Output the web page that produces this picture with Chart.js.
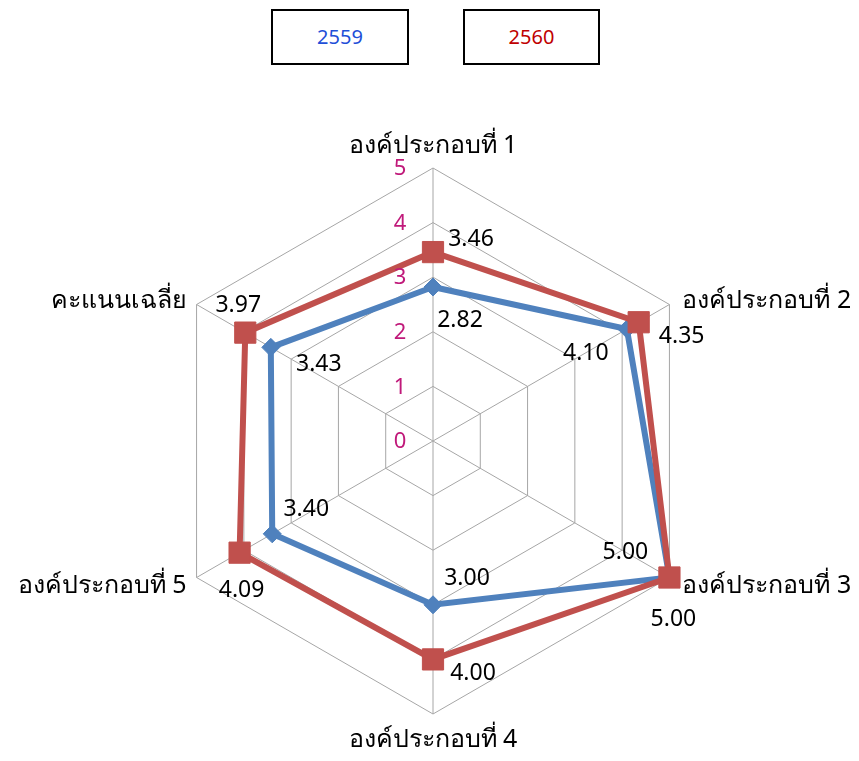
<!DOCTYPE html>
<html lang="th">
<head>
<meta charset="UTF-8">
<title>Radar</title>
<script src="https://cdn.jsdelivr.net/npm/chart.js"></script>
<style>
    html, body { margin: 0; padding: 0; background: #fff; }
    #wrap { position: relative; width: 859px; height: 761px; }
    .lg {
        position: absolute;
        top: 9px;
        height: 52px;
        border: 2px solid #000;
        font: 20px "Noto Sans", sans-serif;
        line-height: 52px;
        text-align: center;
        background: #fff;
    }
</style>
</head>
<body>
<div id="wrap">
    <canvas id="radar"></canvas>
</div>
<script>
// data
const categories = ['องค์ประกอบที่ 1', 'องค์ประกอบที่ 2', 'องค์ประกอบที่ 3', 'องค์ประกอบที่ 4', 'องค์ประกอบที่ 5', 'คะแนนเฉลี่ย'];
const seriesNames = ['2559', '2560'];
const values2559 = [2.82, 4.10, 5.00, 3.00, 3.40, 3.43];
const values2560 = [3.46, 4.35, 5.00, 4.00, 4.09, 3.97];
const tickValues = [0, 1, 2, 3, 4, 5];

// label offsets (px) from each point
const labelOffsets = [
    [[27, 33], [-41, 24], [-44, -25], [34, -26], [34, -24], [48, 17]],
    [[38, -13], [43, 14], [4, 42], [40, 14], [2, 38], [-7, -27]]
];

const BLUE = '#4F81BD';
const RED = '#C0504D';
const FONT = '"Noto Sans", sans-serif';

// legend boxes
const legendBoxes = [{ left: 271, width: 134, color: '#1F4FD8' }, { left: 463, width: 133, color: '#C00000' }];
seriesNames.forEach((name, i) => {
    const d = document.createElement('div');
    d.className = 'lg';
    d.style.left = legendBoxes[i].left + 'px';
    d.style.width = legendBoxes[i].width + 'px';
    d.style.color = legendBoxes[i].color;
    d.textContent = name;
    document.getElementById('wrap').appendChild(d);
});

const overlay = {
    id: 'overlay',
    afterDatasetsDraw(chart) {
        const ctx = chart.ctx;
        const scale = chart.scales.r;
        ctx.save();

        // tick labels left of the vertical axis
        ctx.font = '22px ' + FONT;
        ctx.fillStyle = '#C0197A';
        ctx.textAlign = 'center';
        ctx.textBaseline = 'middle';
        tickValues.forEach(v => {
            const p = scale.getPointPositionForValue(0, v);
            ctx.fillText(String(v), p.x - 33, p.y + 1);
        });

        // point labels
        ctx.font = '25px ' + FONT;
        ctx.fillStyle = '#000';
        chart.data.labels.forEach((lab, i) => {
            const p = scale.getPointPosition(i, scale.drawingArea);
            if (i === 0) {
                ctx.textAlign = 'center'; ctx.textBaseline = 'bottom';
                ctx.fillText(lab, p.x, p.y - 10);
            } else if (i === 3) {
                ctx.textAlign = 'center'; ctx.textBaseline = 'top';
                ctx.fillText(lab, p.x, p.y + 13);
            } else if (i < 3) {
                ctx.textAlign = 'left'; ctx.textBaseline = 'middle';
                ctx.fillText(lab, p.x + 13, p.y + (i === 1 ? -4 : 8));
            } else {
                ctx.textAlign = 'right'; ctx.textBaseline = 'middle';
                ctx.fillText(lab, p.x - 10, p.y + (i === 4 ? 8 : -4));
            }
        });

        // data labels
        ctx.font = '23px ' + FONT;
        ctx.textAlign = 'center';
        ctx.textBaseline = 'middle';
        chart.data.datasets.forEach((ds, di) => {
            const meta = chart.getDatasetMeta(di);
            meta.data.forEach((pt, i) => {
                const off = labelOffsets[di][i];
                ctx.fillText(ds.data[i].toFixed(2), pt.x + off[0], pt.y + off[1]);
            });
        });
        ctx.restore();
    }
};

const ctx = document.getElementById('radar').getContext('2d');
new Chart(ctx, {
    type: 'radar',
    data: {
        labels: categories,
        datasets: [
            {
                label: seriesNames[0],
                data: values2559,
                borderColor: BLUE,
                backgroundColor: BLUE,
                borderWidth: 6,
                fill: false,
                pointStyle: 'rectRot',
                pointRadius: 9,
                pointBackgroundColor: BLUE,
                pointBorderColor: BLUE,
                pointBorderWidth: 1,
                order: 2
            },
            {
                label: seriesNames[1],
                data: values2560,
                borderColor: RED,
                backgroundColor: RED,
                borderWidth: 6,
                fill: false,
                pointStyle: 'rect',
                pointRadius: 15,
                pointBackgroundColor: RED,
                pointBorderColor: RED,
                pointBorderWidth: 1,
                order: 1
            }
        ]
    },
    options: {
        responsive: true,
        maintainAspectRatio: false,
        animation: false,
        layout: { padding: { left: 160, right: 153, top: 168, bottom: 47 } },
        elements: { line: { tension: 0 } },
        plugins: {
            legend: { display: false },
            tooltip: { enabled: false }
        },
        scales: {
            r: {
                min: 0,
                max: 5,
                ticks: { stepSize: 1, display: false },
                grid: { color: '#A6A6A6', lineWidth: 1 },
                angleLines: { color: '#A6A6A6', lineWidth: 1 },
                pointLabels: { display: false }
            }
        }
    },
    plugins: [overlay]
});
</script>
</body>
</html>
